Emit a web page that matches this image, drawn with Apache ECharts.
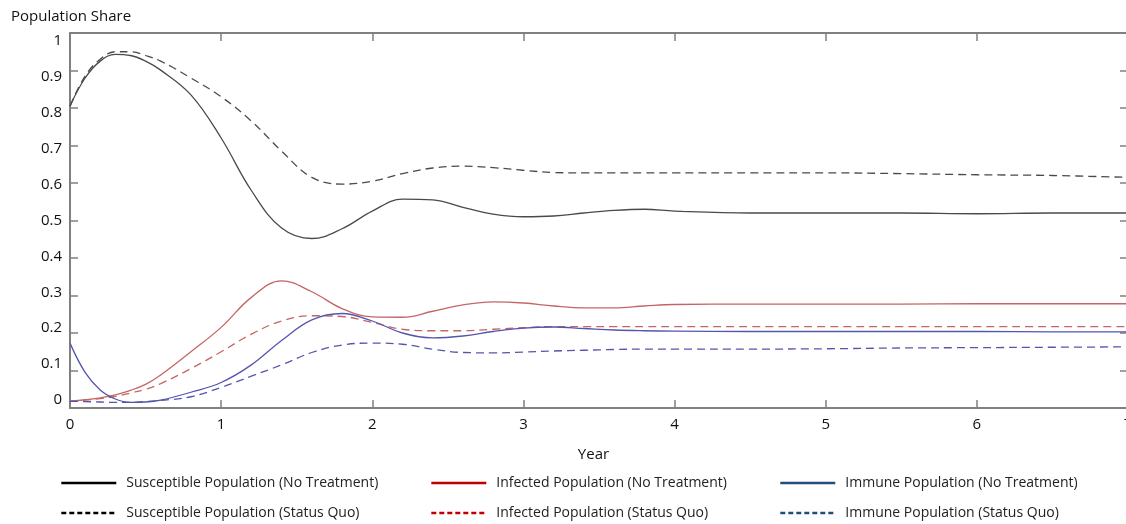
<!DOCTYPE html>
<html><head><meta charset="utf-8">
<script src="https://cdn.jsdelivr.net/npm/echarts@6/dist/echarts.min.js"></script>
<style>html,body{margin:0;padding:0;background:#fff}#c{width:1126px;height:524px}</style>
</head><body><div id="c"></div>
<script>
const years = [0,0.1,0.2,0.3,0.4,0.5,0.6,0.8,1.0,1.2,1.4,1.6,1.8,2.0,2.2,2.4,2.6,2.8,3.0,3.2,3.4,3.6,3.8,4.0,4.5,5.0,5.5,6.0,6.5,7.0];
const susceptibleNoTreatment = [0.805,0.88,0.925,0.943,0.94,0.925,0.901,0.835,0.72,0.58,0.48,0.452,0.478,0.525,0.557,0.555,0.535,0.517,0.51,0.512,0.52,0.527,0.53,0.525,0.52,0.52,0.52,0.518,0.52,0.52];
const susceptibleStatusQuo = [0.805,0.885,0.93,0.95,0.95,0.94,0.925,0.88,0.83,0.765,0.685,0.615,0.597,0.605,0.625,0.64,0.645,0.641,0.634,0.628,0.627,0.627,0.627,0.627,0.627,0.627,0.625,0.622,0.62,0.615];
const infectedNoTreatment = [0.018,0.022,0.027,0.035,0.047,0.063,0.088,0.15,0.215,0.295,0.339,0.31,0.265,0.243,0.242,0.258,0.275,0.283,0.28,0.272,0.267,0.267,0.272,0.276,0.277,0.277,0.277,0.278,0.278,0.278];
const infectedStatusQuo = [0.018,0.021,0.025,0.031,0.04,0.05,0.065,0.105,0.15,0.197,0.232,0.246,0.244,0.228,0.21,0.206,0.206,0.21,0.214,0.217,0.217,0.217,0.217,0.217,0.217,0.217,0.217,0.217,0.217,0.217];
const immuneNoTreatment = [0.173,0.095,0.048,0.024,0.015,0.016,0.021,0.042,0.068,0.115,0.18,0.235,0.252,0.232,0.2,0.187,0.192,0.204,0.213,0.216,0.212,0.208,0.206,0.205,0.204,0.204,0.204,0.204,0.203,0.203];
const immuneStatusQuo = [0.018,0.017,0.016,0.015,0.015,0.017,0.02,0.03,0.055,0.085,0.115,0.148,0.168,0.173,0.17,0.157,0.148,0.147,0.149,0.152,0.154,0.156,0.157,0.157,0.157,0.158,0.16,0.161,0.162,0.163];
const yTickLabels = [0,0.1,0.2,0.3,0.4,0.5,0.6,0.7,0.8,0.9,1];
const seriesNames = ['Susceptible Population (No Treatment)','Susceptible Population (Status Quo)','Infected Population (No Treatment)','Infected Population (Status Quo)','Immune Population (No Treatment)','Immune Population (Status Quo)'];

const FONT = 'Open Sans';
const pair = (ys) => years.map((x,i)=>[x, ys[i]]);
function mk(name, data, color, dashed){
  return {name, type:'line', data:pair(data), smooth:0.4, showSymbol:false, symbol:'none',
    xAxisIndex:0, yAxisIndex:0, animation:false,
    lineStyle:{color, width:1.3, type: dashed ? [8,5] : 'solid'}};
}
const lineColors = ['#4a4a4a','#4a4a4a','#c56565','#c56565','#5555ad','#5555ad'];
const legColors = ['#000000','#000000','#c00000','#c00000','#1f4e79','#1f4e79'];
const allData = [susceptibleNoTreatment,susceptibleStatusQuo,infectedNoTreatment,infectedStatusQuo,immuneNoTreatment,immuneStatusQuo];
const series = seriesNames.map((n,i)=>mk(n, allData[i], lineColors[i], i%2===1));

function legend(left, idx){
  return {orient:'vertical', left, top:476, padding:0, height:48, itemWidth:55, itemHeight:14, itemGap:16,
    selectedMode:false,
    textStyle:{fontFamily:FONT, fontSize:14, color:'#222', padding:[0,0,0,5]},
    data: idx.map(i=>({name:seriesNames[i],
      itemStyle:{color:'rgba(0,0,0,0)', borderWidth:0},
      lineStyle:{color:legColors[i], width:2.6, type: i%2 ? [5,3] : 'solid'}}))};
}

const axisLine = {show:true, onZero:false, lineStyle:{color:'#808080', width:2}};
const tick = {show:true, inside:true, length:8, lineStyle:{color:'#808080', width:1.5}};
const option = {
  animation:false,
  title:{text:'Population Share', left:6, top:4, textStyle:{fontFamily:FONT, fontSize:15, fontWeight:'normal', color:'#111'}},
  grid:{left:70, right:-2, top:33, bottom:116, containLabel:false, outerBoundsMode:'none'},
  xAxis:[
    {type:'value', min:0, max:7, interval:1, position:'bottom',
     axisLine, axisTick:tick, splitLine:{show:false},
     axisLabel:{fontFamily:FONT, fontSize:15, color:'#111', margin:9},
     name:'Year', nameLocation:'middle', nameGap:39, nameTextStyle:{fontFamily:FONT, fontSize:15, color:'#111', padding:[0,11,0,0]}},
    {type:'value', min:0, max:7, interval:1, position:'top',
     axisLine, axisTick:tick, splitLine:{show:false}, axisLabel:{show:false}}
  ],
  yAxis:[
    {type:'value', min:0, max:1, interval:0.1, position:'left',
     axisLine, axisTick:tick, splitLine:{show:false}, axisLabel:{show:false}},
    {type:'value', min:0, max:1, interval:0.1, position:'right',
     axisLine, axisTick:tick, splitLine:{show:false}, axisLabel:{show:false}},
    {type:'value', min:-0.0223, max:1.0223, position:'left', offset:0,
     axisLine:{show:false, onZero:false}, axisTick:{show:false}, splitLine:{show:false},
     axisLabel:{fontFamily:FONT, fontSize:15, color:'#111', margin:8, customValues:yTickLabels,
       formatter:(v)=>String(Math.round(v*10)/10)}}
  ],
  legend:[legend(60,[0,1]), legend(430,[2,3]), legend(779,[4,5])],
  series
};
const chart = echarts.init(document.getElementById('c'), null, {renderer:'canvas'});
chart.setOption(option);
</script></body></html>
